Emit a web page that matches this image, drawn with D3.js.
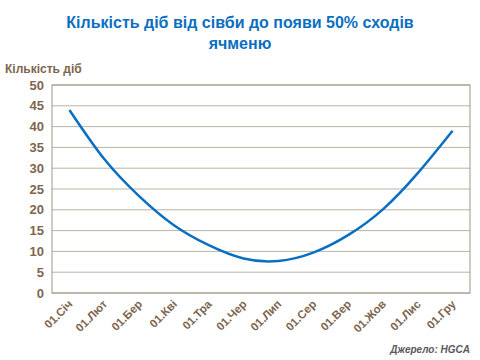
<!DOCTYPE html>
<html>
<head>
<meta charset="utf-8">
<script src="https://cdn.jsdelivr.net/npm/d3@7"></script>
<style>
  body { margin: 0; background: #fff; }
  svg { display: block; font-family: "Liberation Sans", Arial, sans-serif; }
</style>
</head>
<body>
<div id="chart"></div>
<script>
/* Days from sowing to 50% barley emergence */

const months = ["01.Січ", "01.Лют", "01.Бер", "01.Кві", "01.Тра", "01.Чер",
                "01.Лип", "01.Сер", "01.Вер", "01.Жов", "01.Лис", "01.Гру"];
const days = [44, 32.2, 23.3, 16.3, 11.5, 8.3, 7.7, 9.7, 13.9, 20.1, 28.8, 39];
const yTicks = [0, 5, 10, 15, 20, 25, 30, 35, 40, 45, 50];

const width = 480, height = 360,
      margin = ({top: 85, right: 10, bottom: 67, left: 52});

const data = months.map((m, i) => ({month: m, num: days[i]}));

let svg = d3.select("#chart")
    .append("svg")
    .attr("width", width)
    .attr("height", height);

let x = d3.scaleBand()
    .domain(months)
    .range([margin.left, width - margin.right]);

let y = d3.scaleLinear()
    .domain([0, 50])
    .range([height - margin.bottom, margin.top]);

// gridlines
svg.append("g")
    .selectAll("line")
    .data(yTicks)
    .join("line")
    .attr("x1", margin.left)
    .attr("x2", width - margin.right)
    .attr("y1", d => y(d))
    .attr("y2", d => y(d))
    .attr("stroke", "#bcb3a6")
    .attr("stroke-width", 1);

// plot border
svg.append("rect")
    .attr("x", margin.left)
    .attr("y", y(50))
    .attr("width", width - margin.left - margin.right)
    .attr("height", y(0) - y(50))
    .attr("fill", "none")
    .attr("stroke", "#a09585")
    .attr("stroke-width", 1);

// y axis labels
svg.append("g")
    .selectAll("text")
    .data(yTicks)
    .join("text")
    .attr("x", margin.left - 8)
    .attr("y", d => y(d))
    .attr("dy", "0.35em")
    .attr("text-anchor", "end")
    .attr("font-size", 13)
    .attr("font-weight", "bold")
    .attr("fill", "#7d6650")
    .text(d => d);

// x axis labels, rotated
svg.append("g")
    .selectAll("text")
    .data(months)
    .join("text")
    .attr("transform", d => `translate(${x(d) + x.bandwidth() / 2 + 1},${y(0) + 9}) rotate(-45)`)
    .attr("text-anchor", "end")
    .attr("dy", "0.35em")
    .attr("font-size", 11.5)
    .attr("font-weight", "bold")
    .attr("fill", "#7d6650")
    .text(d => d);

// line
const line = d3.line()
    .x(d => x(d.month) + x.bandwidth() / 2)
    .y(d => y(d.num))
    .curve(d3.curveNatural);

svg.append("path")
    .datum(data)
    .attr("d", line)
    .attr("fill", "none")
    .attr("stroke", "#0b6fc1")
    .attr("stroke-width", 2.5);

// title
svg.append("text")
    .attr("x", 240)
    .attr("y", 28)
    .attr("text-anchor", "middle")
    .attr("font-size", 16)
    .attr("font-weight", "bold")
    .attr("fill", "#0b6fc1")
    .selectAll("tspan")
    .data(["Кількість діб від сівби до появи 50% сходів", "ячменю"])
    .join("tspan")
    .attr("x", 240)
    .attr("dy", (d, i) => i ? 21 : 0)
    .text(d => d);

// y axis title
svg.append("text")
    .attr("x", 5)
    .attr("y", 73)
    .attr("font-size", 12)
    .attr("font-weight", "bold")
    .attr("fill", "#7d6650")
    .text("Кількість діб");

// source
svg.append("text")
    .attr("x", 470)
    .attr("y", 353)
    .attr("text-anchor", "end")
    .attr("font-size", 10)
    .attr("font-style", "italic")
    .attr("font-weight", "bold")
    .attr("fill", "#5a5a5a")
    .text("Джерело: HGCA");
</script>
</body>
</html>
